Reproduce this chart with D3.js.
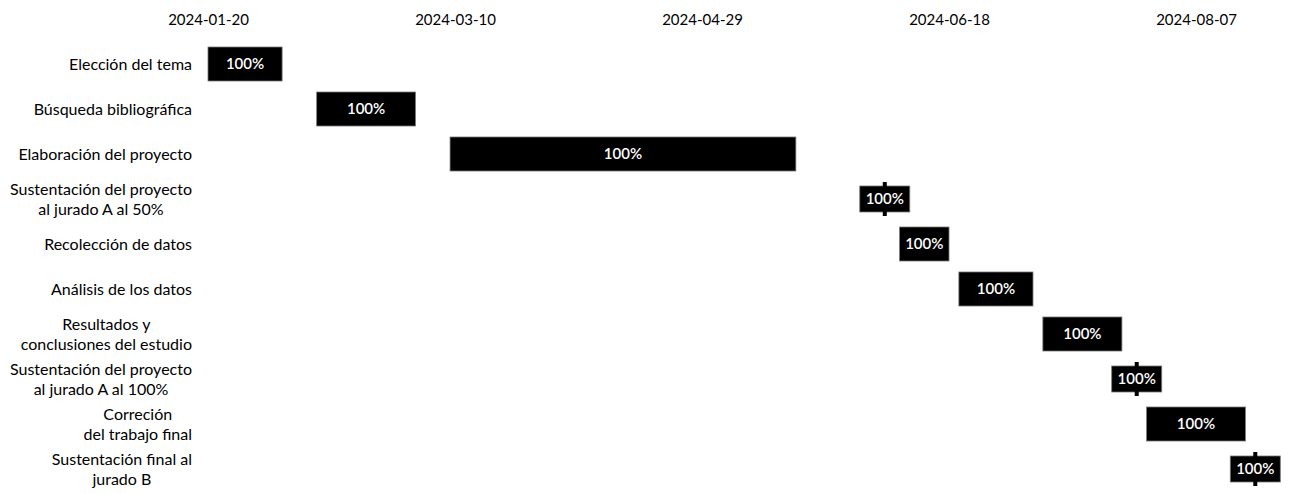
<!DOCTYPE html>
<html>
  <head>
    <meta charset="utf-8">
    <script src="https://d3js.org/d3.v7.min.js"></script>
    <style type="text/css">
body{
	margin: 0;
	background: white;
	font-family: "Lato", "Open Sans", sans-serif;
}
svg{
	display: block;
}
    </style>
  </head>
  <body>
	<script>
		// tasks, top to bottom
		var tasks = [
			"Elección del tema",
			"Búsqueda bibliográfica",
			"Elaboración del proyecto",
			"Sustentación del proyecto\nal jurado A al 50%",
			"Recolección de datos",
			"Análisis de los datos",
			"Resultados y\nconclusiones del estudio",
			"Sustentación del proyecto\nal jurado A al 100%",
			"Correción\ndel trabajo final",
			"Sustentación final al\njurado B"
		];
		var starts = ["2024-01-20", "2024-02-11", "2024-03-09", "2024-06-05", "2024-06-08",
			"2024-06-20", "2024-07-07", "2024-07-26", "2024-07-28", "2024-08-19"];
		var ends = ["2024-02-04", "2024-03-02", "2024-05-18", "2024-06-05", "2024-06-18",
			"2024-07-05", "2024-07-23", "2024-07-26", "2024-08-17", "2024-08-19"];
		var progress = [100, 100, 100, 100, 100, 100, 100, 100, 100, 100];
		var tickDates = ["2024-01-20", "2024-03-10", "2024-04-29", "2024-06-18", "2024-08-07"];

		var width = 1290, height = 493;
		var parse = d3.utcParse("%Y-%m-%d");
		var fmt = d3.utcFormat("%Y-%m-%d");

		var rows = tasks.map(function(t, i) {
			return {name: t, start: parse(starts[i]), end: parse(ends[i]), pct: progress[i]};
		});

		var svg = d3.select("body").append("svg")
			.attr("width", width)
			.attr("height", height);

		var x = d3.scaleUtc()
			.domain([parse(tickDates[0]), parse(tickDates[tickDates.length - 1])])
			.range([208, 1196]);

		var y = d3.scalePoint()
			.domain(tasks)
			.range([64, 469]);

		// top axis, labels only
		var xAxis = svg.append("g")
			.attr("transform", "translate(0,25)")
			.call(d3.axisTop(x)
				.tickValues(tickDates.map(parse))
				.tickFormat(fmt)
				.tickSize(0)
				.tickPadding(0));
		xAxis.select(".domain").remove();
		xAxis.selectAll("text")
			.attr("font-family", "Lato")
			.attr("font-size", 15)
			.attr("fill", "black");

		// task labels (multi-line blocks centred, block right-aligned)
		var labelRight = 192, lineH = 20;
		var label = svg.append("g").selectAll("text")
			.data(rows)
			.enter()
			.append("text")
			.attr("font-family", "Lato")
			.attr("font-size", 16)
			.attr("fill", "black")
			.attr("text-anchor", "middle");

		label.each(function(d) {
			var t = d3.select(this);
			var lines = d.name.split("\n");
			var y0 = y(d.name) - (lines.length - 1) * lineH / 2;
			var w = 0;
			lines.forEach(function(l, k) {
				var ts = t.append("tspan")
					.attr("x", 0)
					.attr("y", y0 + k * lineH)
					.attr("dy", "0.35em")
					.text(l);
				w = Math.max(w, ts.node().getComputedTextLength());
			});
			t.selectAll("tspan").attr("x", labelRight - w / 2);
		});

		// bars
		var barH = 34, msW = 50, msH = 26;
		var bars = svg.append("g").selectAll("g")
			.data(rows)
			.enter()
			.append("g");

		bars.filter(function(d) { return +d.start !== +d.end; })
			.append("rect")
			.attr("x", function(d) { return x(d.start); })
			.attr("y", function(d) { return y(d.name) - barH / 2; })
			.attr("width", function(d) { return x(d.end) - x(d.start); })
			.attr("height", barH)
			.attr("fill", "black")
			.attr("stroke", "#777")
			.attr("stroke-width", 0.8);

		// milestones: small box with a tick on the date
		var ms = bars.filter(function(d) { return +d.start === +d.end; });
		ms.append("rect")
			.attr("x", function(d) { return x(d.start) - msW / 2; })
			.attr("y", function(d) { return y(d.name) - msH / 2; })
			.attr("width", msW)
			.attr("height", msH)
			.attr("fill", "black")
			.attr("stroke", "#777")
			.attr("stroke-width", 0.8);
		ms.append("line")
			.attr("x1", function(d) { return x(d.start); })
			.attr("x2", function(d) { return x(d.start); })
			.attr("y1", function(d) { return y(d.name) - msH / 2 - 4; })
			.attr("y2", function(d) { return y(d.name) + msH / 2 + 4; })
			.attr("stroke", "black")
			.attr("stroke-width", 4);

		bars.append("text")
			.attr("x", function(d) {
				return +d.start === +d.end ? x(d.start) : (x(d.start) + x(d.end)) / 2;
			})
			.attr("y", function(d) { return y(d.name); })
			.attr("dy", "0.35em")
			.attr("text-anchor", "middle")
			.attr("font-family", "Lato")
			.attr("font-size", 15)
			.attr("font-weight", 600)
			.attr("fill", "white")
			.text(function(d) { return d.pct + "%"; });
	</script>
  </body>
</html>
